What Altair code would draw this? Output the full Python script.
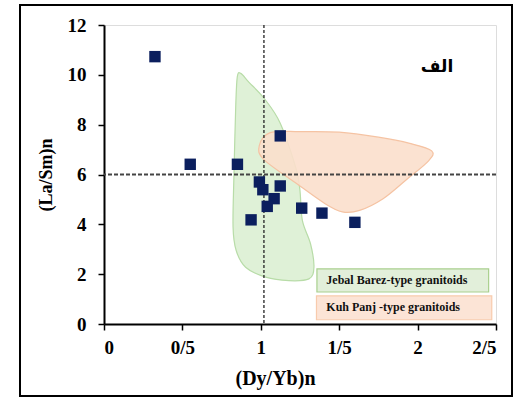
import altair as alt
import pandas as pd

# ---- data ----
pts_x = [0.325, 0.550, 0.851, 1.124, 0.991, 1.013, 1.124, 1.085, 1.041, 0.938, 1.261, 1.390, 1.60]
pts_y = [10.73, 6.41, 6.41, 7.55, 5.70, 5.39, 5.54, 5.03, 4.72, 4.18, 4.65, 4.45, 4.08]

green_x = [0.872, 0.925, 1.022, 1.124, 1.222, 1.249, 1.265, 1.317, 1.339, 1.307, 1.179, 1.031, 0.903, 0.843, 0.823, 0.829, 0.840, 0.850]
green_y = [10.06, 9.70, 9.05, 8.06, 6.30, 5.40, 4.16, 3.22, 2.28, 1.81, 1.74, 1.88, 2.28, 2.95, 3.89, 6.04, 8.72, 9.92]

orange_x = [1.06, 1.25, 1.50, 1.75, 1.95, 2.09, 2.07, 1.93, 1.78, 1.63, 1.52, 1.41, 1.23, 1.02, 0.99]
orange_y = [7.68, 7.72, 7.70, 7.50, 7.25, 6.95, 6.55, 5.80, 5.03, 4.56, 4.50, 4.83, 5.63, 6.60, 7.15]

ref_x = 1.02
ref_y = 6.0

x_ticks = [0, 0.5, 1, 1.5, 2, 2.5]
y_ticks = [0, 2, 4, 6, 8, 10, 12]

legend_labels = ["Jebal Barez-type granitoids", "Kuh Panj -type granitoids"]
legend_x = [1.358, 1.355]
legend_x2 = [2.453, 2.473]
legend_y = [2.21, 1.13]
legend_y2 = [1.285, 0.17]
legend_tx = [1.418, 1.418]
legend_ty = [1.78, 0.67]
legend_fill = ["#e2efda", "#fce4d6"]
legend_stroke = ["#a9d08e", "#f8cbad"]

panel_label = "الف"
panel_x = 2.124
panel_y = 10.33

SERIF = "Liberation Serif"

pts = pd.DataFrame({"x": pts_x, "y": pts_y})
green = pd.DataFrame({"x": green_x, "y": green_y, "o": list(range(len(green_x)))})
orange = pd.DataFrame({"x": orange_x, "y": orange_y, "o": list(range(len(orange_x)))})
leg = pd.DataFrame({"label": legend_labels, "x": legend_x, "x2": legend_x2, "y": legend_y,
                    "y2": legend_y2, "tx": legend_tx, "ty": legend_ty,
                    "fill": legend_fill, "stroke": legend_stroke})

xs = alt.Scale(domain=[0, 2.5], nice=False, zero=False)
ys = alt.Scale(domain=[0, 12], nice=False, zero=False)

xax = alt.Axis(values=x_ticks, title="(Dy/Yb)n", grid=False,
               labelExpr="replace(format(datum.value, '~g'), '.', '/')",
               labelFont=SERIF, labelFontSize=19, labelFontWeight="bold", labelColor="black",
               titleFont=SERIF, titleFontSize=20, titleFontWeight="bold", titleColor="black",
               titleX=171, titleY=54, titleBaseline="middle", titleAlign="center",
               tickSize=6, tickColor="black", tickWidth=1.5, domainColor="black", domainWidth=2,
               labelPadding=8)
yax = alt.Axis(values=y_ticks, title="(La/Sm)n", grid=False,
               labelFont=SERIF, labelFontSize=19, labelFontWeight="bold", labelColor="black",
               titleFont=SERIF, titleFontSize=18, titleFontWeight="bold", titleColor="black",
               tickSize=6, tickColor="black", tickWidth=1.5, domainColor="black", domainWidth=2,
               labelPadding=12, titlePadding=12)

base_x = alt.X("x:Q", scale=xs, axis=xax)
base_y = alt.Y("y:Q", scale=ys, axis=yax)

green_poly = alt.Chart(green).mark_line(
    interpolate="cardinal-closed", fill="#dcefd3", stroke="#b8dca8", strokeWidth=1.2, fillOpacity=0.9
).encode(x=base_x, y=base_y, order="o:Q")

orange_poly = alt.Chart(orange).mark_line(
    interpolate="cardinal-closed", fill="#fbdfcc", stroke="#f5c3a3", strokeWidth=1.2, fillOpacity=0.9
).encode(x="x:Q", y="y:Q", order="o:Q")

vline = alt.Chart(pd.DataFrame({"x": [ref_x]})).mark_rule(
    color="#222222", strokeDash=[3, 2], strokeWidth=1.3
).encode(x="x:Q")
hline = alt.Chart(pd.DataFrame({"y": [ref_y]})).mark_rule(
    color="#444444", strokeDash=[4, 2], strokeWidth=1.8
).encode(y="y:Q")

points = alt.Chart(pts).mark_square(size=130, color="#0b1f5e", opacity=1).encode(x="x:Q", y="y:Q")

leg_box = alt.Chart(leg).mark_rect(strokeWidth=1.2).encode(
    x="x:Q", x2="x2", y="y:Q", y2="y2",
    fill=alt.Fill("fill:N", scale=None), stroke=alt.Stroke("stroke:N", scale=None))
leg_text = alt.Chart(leg).mark_text(
    align="left", baseline="middle", font=SERIF, fontSize=12, fontWeight="bold", color="#111111"
).encode(x="tx:Q", y="ty:Q", text="label:N")

panel = alt.Chart(pd.DataFrame({"x": [panel_x], "y": [panel_y], "t": [panel_label]})).mark_text(
    font="DejaVu Sans", fontSize=17, fontWeight="bold", color="black", align="center", baseline="middle"
).encode(x="x:Q", y="y:Q", text="t:N")

frame = alt.Chart(pd.DataFrame({"a": [0]})).mark_rect(
    fill=None, stroke="black", strokeWidth=2
).encode(x=alt.value(-84), x2=alt.value(408), y=alt.value(-20), y2=alt.value(371))

chart = alt.layer(green_poly, orange_poly, vline, hline, points, leg_box, leg_text, panel, frame).properties(
    width=392, height=299,
    padding={"left": 104, "top": 25, "right": 35, "bottom": 75},
    autosize="none",
).configure_view(stroke="black", strokeWidth=2).configure(background="white")

chart.save("out.html", embed_options={"renderer": "svg", "actions": False})
